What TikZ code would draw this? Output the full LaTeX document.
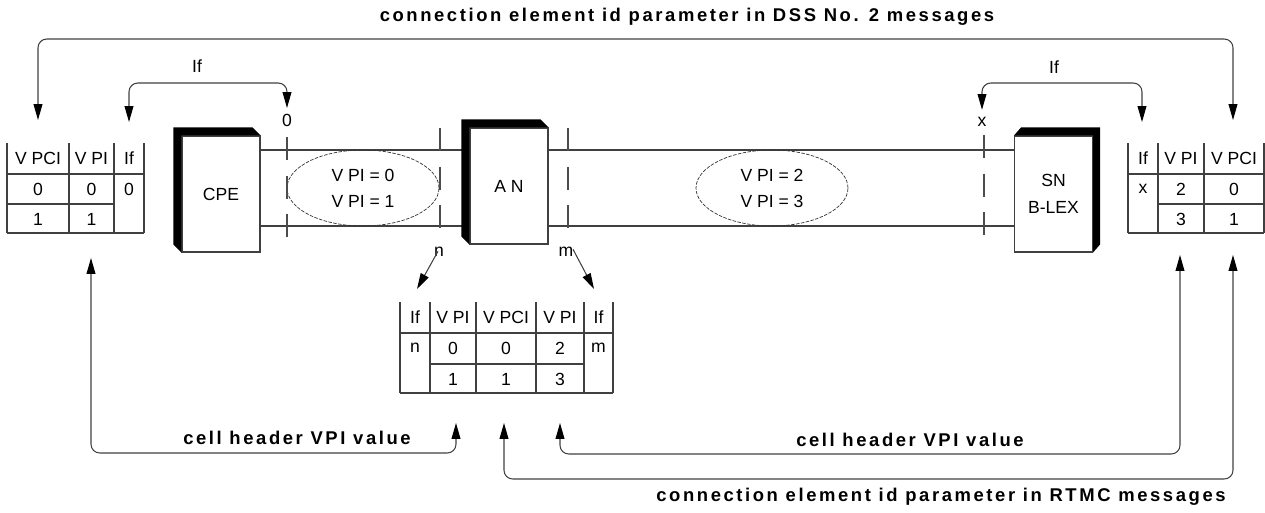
\documentclass[tikz,border=0pt]{standalone}
\usepackage{fontspec}
\setmainfont{Liberation Sans}
\usetikzlibrary{arrows.meta,shapes.geometric}

\tikzset{
  lbl/.style={font=\fontsize{10}{12}\selectfont, inner sep=0pt},
  bigtxt/.style={font=\fontsize{10.5}{12}\selectfont\bfseries\addfontfeature{LetterSpace=14}, inner sep=0pt},
  nebox/.style={draw=black!75, fill=white, minimum width=1.56cm, minimum height=2.32cm,
    inner sep=0pt, align=center, font=\fontsize{10}{15}\selectfont},
  vpc/.style={ellipse, draw=black!80, line width=0.4pt, dash pattern=on 2pt off 0.8pt,
    minimum width=3.04cm, minimum height=1.52cm, inner sep=0pt, align=center,
    font=\fontsize{10}{14.8}\selectfont},
  vdash/.style={black!70, dash pattern=on 13pt off 9pt},
  arr/.style={-{Triangle[length=9pt,width=5pt,black]}},
  feed/.style={{Triangle[length=9pt,width=5pt,black]}-{Triangle[length=9pt,width=5pt,black]}, rounded corners=5pt},
}

\begin{document}
\begin{tikzpicture}[x=0.02cm, y=-0.02cm, line width=0.6pt, draw=black!75]
    \useasboundingbox (0,0) rectangle (1265,512);

    % network elements
    \node[nebox] (cpe) at (221,194) {CPE};
    \node[nebox] (an) at (509,186) {A N};
    \node[nebox] (sn) at (1053.5,194) {SN\\B-LEX};
    \coordinate (up) at (0,150);
    \coordinate (lo) at (0,226);
    \draw (cpe.east |- up) -- (an.west |- up);
    \draw (cpe.east |- lo) -- (an.west |- lo);
    \draw (an.east |- up) -- (sn.west |- up);
    \draw (an.east |- lo) -- (sn.west |- lo);
    \fill (cpe.south west) -- ([shift={(-8,-8)}]cpe.south west) -- ([shift={(-8,-8)}]cpe.north west)
        -- ([shift={(-8,-8)}]cpe.north east) -- (cpe.north east) -- (cpe.north west) -- cycle;
    \fill (an.south west) -- ([shift={(-8,-8)}]an.south west) -- ([shift={(-8,-8)}]an.north west)
        -- ([shift={(-8,-8)}]an.north east) -- (an.north east) -- (an.north west) -- cycle;
    \fill (sn.north west) -- ([shift={(7,-8)}]sn.north west) -- ([shift={(7,-8)}]sn.north east)
        -- ([shift={(7,-8)}]sn.south east) -- (sn.south east) -- (sn.north east) -- cycle;

    % virtual paths
    \node[vpc] (vp01) at (363,188) {V PI = 0\\V PI = 1};
    \node[vpc] (vp23) at (772,188) {V PI = 2\\V PI = 3};

    % interfaces
    \draw[vdash] (287,137) -- (287,240);
    \draw[vdash] (440,128) -- (440,237);
    \draw[vdash] (568,128) -- (568,237);
    \draw[vdash] (984,135) -- (984,239);
    \node[lbl] (lab0) at (287,120) {0};
    \node[lbl] (labn) at (439,252) {n};
    \node[lbl] (labm) at (566,252) {m};
    \node[lbl] (labx) at (982,122) {x};

    % table at CPE
    \foreach \x in {7,69,114,144} \draw (\x,143) -- (\x,233);
    \draw (7,174) -- (144,174);
    \draw (7,204) -- (114,204);
    \draw (7,233) -- (144,233);
    \node[lbl] at (38,158) {V PCI};
    \node[lbl] at (91.5,158) {V PI};
    \node[lbl] at (129,158) {If};
    \node[lbl] at (38,189) {0};
    \node[lbl] at (91.5,189) {0};
    \node[lbl] at (129,189) {0};
    \node[lbl] at (38,219) {1};
    \node[lbl] at (91.5,219) {1};

    % table at SN
    \foreach \x in {1128,1158,1204,1264} \draw (\x,143) -- (\x,233);
    \draw (1128,174) -- (1264,174);
    \draw (1158,204) -- (1264,204);
    \draw (1128,233) -- (1264,233);
    \node[lbl] at (1143,158) {If};
    \node[lbl] at (1181,158) {V PI};
    \node[lbl] at (1234,158) {V PCI};
    \node[lbl] at (1143,189) {x};
    \node[lbl] at (1181,189) {2};
    \node[lbl] at (1234,189) {0};
    \node[lbl] at (1181,219) {3};
    \node[lbl] at (1234,219) {1};

    % table at AN
    \foreach \x in {400,430,476,536,584,613} \draw (\x,302) -- (\x,393);
    \draw (400,333) -- (613,333);
    \draw (430,364) -- (584,364);
    \draw (400,393) -- (613,393);
    \node[lbl] at (415,317) {If};
    \node[lbl] at (453,317) {V PI};
    \node[lbl] at (506,317) {V PCI};
    \node[lbl] at (560,317) {V PI};
    \node[lbl] at (598.5,317) {If};
    \node[lbl] at (415,348) {n};
    \node[lbl] at (453,348) {0};
    \node[lbl] at (506,348) {0};
    \node[lbl] at (560,348) {2};
    \node[lbl] at (598.5,348) {m};
    \node[lbl] at (453,379) {1};
    \node[lbl] at (506,379) {1};
    \node[lbl] at (560,379) {3};

    % arrow ends at the tables
    \coordinate (lt-vpci) at (38,120);
    \coordinate (lt-if) at (129,122);
    \coordinate (lt-vpi) at (91,258);
    \coordinate (rt-if) at (1142,122);
    \coordinate (rt-vpci) at (1233,120);
    \coordinate (rt-vpi) at (1180,255);
    \coordinate (rt-vpcib) at (1233,255);
    \coordinate (at-vpin) at (456,423);
    \coordinate (at-vpci) at (504,423);
    \coordinate (at-vpim) at (560,423);
    \coordinate (at-ifn) at (417,289);
    \coordinate (at-ifm) at (594,289);

    % mappings
    \draw[feed] (lt-vpci) |- (640,39) -| (rt-vpci);
    \node[bigtxt] (dsslab) at (687,17) {connection element id parameter in DSS No. 2 messages};
    \draw[feed] (lt-if) |- (200,83) -| ([yshift=3pt]lab0.north);
    \node[lbl] (iflab1) at (197,66) {If};
    \draw[feed] ([yshift=4pt]labx.north) |- (1060,83) -| (rt-if);
    \node[lbl] (iflab2) at (1054,67) {If};
    \draw[arr] ([shift={(-1,-6)}]labn.south) -- (at-ifn);
    \draw[arr] ([shift={(7,-8)}]labm.south) -- (at-ifm);
    \draw[feed] (lt-vpi) |- (300,453) -| (at-vpin);
    \node[bigtxt] (cellab1) at (297,438) {cell header VPI value};
    \draw[feed] (at-vpim) |- (900,454) -| (rt-vpi);
    \node[bigtxt] (cellab2) at (910,440) {cell header VPI value};
    \draw[feed] (at-vpci) |- (900,479) -| (rt-vpcib);
    \node[bigtxt] (rtmclab) at (941,497) {connection element id parameter in RTMC messages};
\end{tikzpicture}
\end{document}
